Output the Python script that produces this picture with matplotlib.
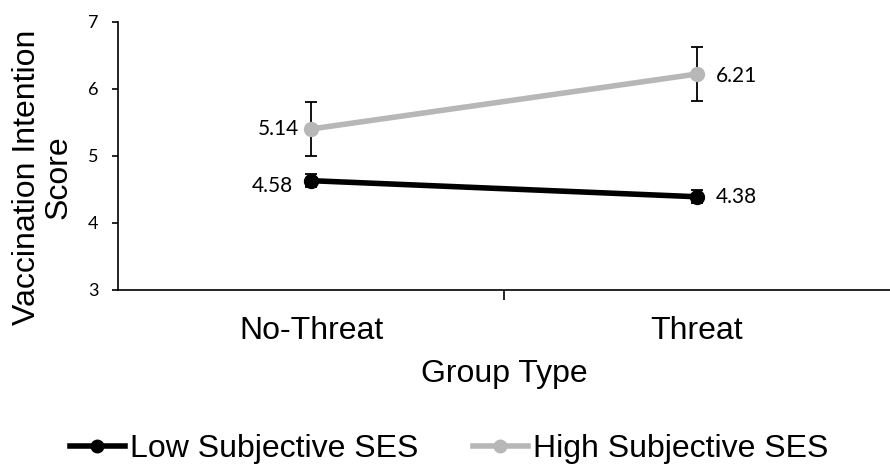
import matplotlib
matplotlib.use("Agg")
import matplotlib.pyplot as plt
from matplotlib.ticker import FixedLocator, NullFormatter
from matplotlib.lines import Line2D

categories = ["No-Threat", "Threat"]
series_names = ["Low Subjective SES", "High Subjective SES"]
low_values = [4.63, 4.39]
low_err = [0.10, 0.10]
low_labels = ["4.58", "4.38"]
high_values = [5.40, 6.22]
high_err = [0.40, 0.40]
high_labels = ["5.14", "6.21"]
y_ticks = [3, 4, 5, 6, 7]
colors = ["#000000", "#b7b7b7"]

plt.rcParams['font.family'] = ['Liberation Sans', 'DejaVu Sans']
num_font = ['Lato', 'Liberation Sans', 'DejaVu Sans']

W, H = 890, 466
fig = plt.figure(figsize=(W / 100, H / 100), dpi=100)
ax = fig.add_axes([118 / W, (H - 290) / H, (890 - 118) / W, (290 - 21.7) / H])

x = list(range(len(categories)))
for vals, errs, col, name in [(low_values, low_err, colors[0], series_names[0]),
                              (high_values, high_err, colors[1], series_names[1])]:
    ax.errorbar(x, vals, yerr=errs, color=col, ecolor='black', elinewidth=1.3,
                capsize=4.3, capthick=1.3, lw=4.0, marker='o', ms=10,
                label=name, zorder=3)

# data labels
ax.annotate(high_labels[0], (x[0], high_values[0]), xytext=(-12, 0), textcoords='offset pixels',
            ha='right', va='center', fontsize=15, family=num_font)
ax.annotate(low_labels[0], (x[0], low_values[0]), xytext=(-18, -5), textcoords='offset pixels',
            ha='right', va='center', fontsize=15, family=num_font)
ax.annotate(high_labels[1], (x[1], high_values[1]), xytext=(19, -2), textcoords='offset pixels',
            ha='left', va='center', fontsize=15, family=num_font)
ax.annotate(low_labels[1], (x[1], low_values[1]), xytext=(19, 0), textcoords='offset pixels',
            ha='left', va='center', fontsize=15, family=num_font)

ax.set_xlim(-0.5, 1.5)
ax.set_ylim(y_ticks[0], y_ticks[-1])
ax.set_yticks(y_ticks)
for lab in ax.get_yticklabels():
    lab.set_family(num_font)
ax.tick_params(axis='y', labelsize=13, length=4, width=1.2, pad=10)
ax.xaxis.set_major_locator(FixedLocator([0.5]))
ax.xaxis.set_major_formatter(NullFormatter())
ax.xaxis.set_minor_locator(FixedLocator(x))
ax.set_xticklabels(categories, minor=True)
ax.tick_params(axis='x', which='major', length=7, width=1.2)
ax.tick_params(axis='x', which='minor', length=0, labelsize=23, pad=18.5)
for s in ['top', 'right']:
    ax.spines[s].set_visible(False)
for s in ['left', 'bottom']:
    ax.spines[s].set_linewidth(1.2)
ax.set_xlabel("Group Type", fontsize=23, labelpad=9.5)

fig.text(43 / W, 1 - 177 / H, "Vaccination Intention\nScore", rotation=90,
         ha='center', va='center', multialignment='center', fontsize=23,
         linespacing=1.05)

hs = [Line2D([], [], color=colors[0], lw=4.0, marker='o', ms=9),
      Line2D([], [], color=colors[1], lw=4.0, marker='o', ms=9)]
fig.legend(hs, series_names, loc='center', bbox_to_anchor=(449 / W, 1 - 449 / H), ncol=2,
           frameon=False, fontsize=23, handlelength=1.72, handletextpad=0.16,
           columnspacing=1.7, borderpad=0, borderaxespad=0)

fig.savefig("out.png", dpi=100)
